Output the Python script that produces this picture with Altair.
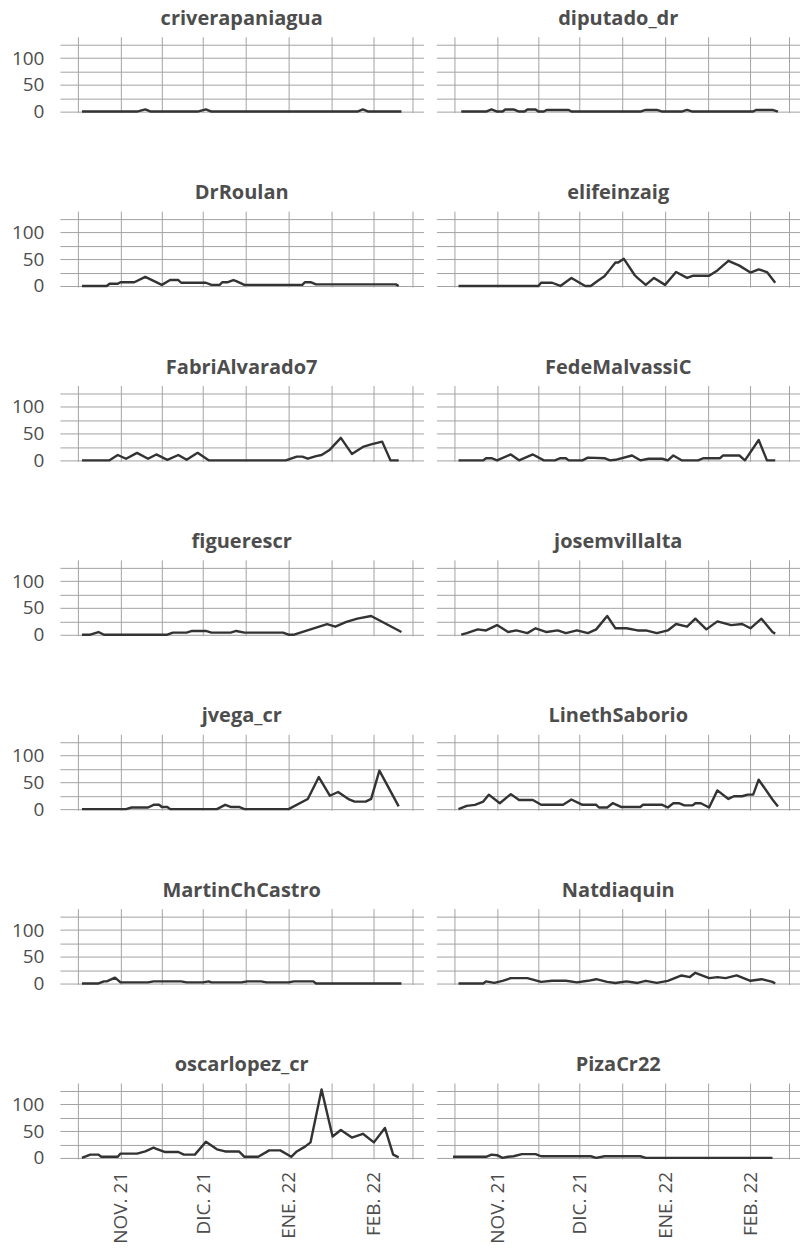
import altair as alt
import pandas as pd

# ---------------- data (day offsets from 2021-10-10) -------------
NAMES = ["criverapaniagua", "diputado_dr", "DrRoulan", "elifeinzaig", "FabriAlvarado7",
         "FedeMalvassiC", "figuerescr", "josemvillalta", "jvega_cr", "LinethSaborio",
         "MartinChCastro", "Natdiaquin", "oscarlopez_cr", "PizaCr22"]

criverapaniagua_days = [8, 28, 31, 33, 50, 53, 55, 108, 110, 112, 124]
criverapaniagua_vals = [0, 0, 4, 0, 0, 4, 0, 0, 4, 0, 0]

diputado_dr_days = [9, 18, 20, 22, 24, 25, 28, 30, 32, 33, 36, 37, 39, 40, 48, 49, 74, 76, 80, 82, 89, 91, 93, 115, 116, 122, 124]
diputado_dr_vals = [0, 0, 4, 0, 0, 4, 4, 0, 0, 4, 4, 0, 0, 3, 3, 0, 0, 3, 3, 0, 0, 3, 0, 0, 3, 3, 0]

DrRoulan_days = [8, 17, 18, 21, 22, 27, 31, 37, 40, 43, 44, 53, 55, 58, 59, 61, 63, 64, 67, 88, 89, 91, 93, 122, 123]
DrRoulan_vals = [0, 0, 4, 4, 7, 7, 17, 2, 11, 11, 6, 6, 2, 2, 7, 7, 11, 9, 2, 2, 7, 7, 3, 3, 0]

elifeinzaig_days = [8, 37, 38, 42, 45, 49, 54, 56, 59, 61, 63, 65, 66, 68, 72, 73, 76, 79, 83, 87, 91, 93, 99, 102, 106, 110, 114, 117, 120, 123]
elifeinzaig_vals = [0, 0, 6, 6, 0, 15, 0, 0, 11, 18, 31, 44, 44, 51, 20, 15, 2, 15, 2, 26, 15, 19, 19, 29, 47, 38, 25, 31, 26, 6]

FabriAlvarado7_days = [8, 18, 21, 24, 28, 32, 35, 39, 43, 46, 50, 54, 82, 86, 88, 90, 93, 95, 98, 102, 106, 110, 113, 117, 120, 123]
FabriAlvarado7_vals = [0, 0, 10, 3, 14, 3, 11, 1, 10, 1, 14, 0, 0, 7, 7, 3, 8, 10, 20, 42, 12, 25, 30, 35, 0, 0]

FedeMalvassiC_days = [8, 17, 18, 20, 22, 27, 30, 35, 39, 43, 45, 47, 48, 53, 55, 61, 63, 65, 71, 74, 77, 82, 84, 86, 89, 95, 97, 103, 104, 110, 112, 117, 120, 123]
FedeMalvassiC_vals = [0, 0, 4, 4, 0, 11, 0, 11, 0, 0, 4, 4, 0, 0, 5, 4, 0, 1, 9, 0, 3, 3, 0, 9, 0, 0, 4, 4, 9, 9, 0, 38, 0, 0]

figuerescr_days = [8, 11, 14, 16, 39, 41, 46, 48, 53, 55, 62, 64, 67, 81, 83, 85, 97, 100, 104, 108, 113, 124]
figuerescr_vals = [0, 0, 5, 0, 0, 4, 4, 7, 7, 4, 4, 7, 4, 4, 0, 0, 20, 15, 24, 30, 35, 5]

josemvillalta_days = [9, 11, 15, 18, 22, 26, 29, 33, 36, 40, 44, 47, 51, 55, 58, 62, 65, 69, 73, 76, 80, 84, 87, 91, 94, 98, 102, 107, 111, 114, 118, 122, 123]
josemvillalta_vals = [0, 3, 10, 8, 18, 5, 8, 3, 12, 5, 8, 3, 8, 3, 10, 35, 12, 12, 8, 8, 3, 8, 20, 15, 30, 10, 25, 18, 20, 12, 30, 5, 2]

jvega_cr_days = [8, 24, 26, 32, 34, 36, 37, 39, 40, 57, 60, 62, 65, 67, 83, 90, 94, 98, 101, 105, 107, 111, 113, 116, 123]
jvega_cr_vals = [0, 0, 3, 3, 8, 8, 4, 4, 0, 0, 8, 4, 4, 0, 0, 19, 60, 25, 32, 18, 14, 14, 19, 72, 5]

LinethSaborio_days = [8, 11, 14, 17, 19, 23, 27, 30, 35, 38, 46, 49, 53, 58, 59, 62, 64, 67, 74, 75, 82, 84, 86, 88, 90, 93, 94, 96, 99, 102, 106, 108, 111, 113, 115, 117, 122, 124]
LinethSaborio_vals = [0, 6, 8, 14, 27, 11, 28, 17, 17, 8, 8, 18, 8, 8, 3, 3, 11, 4, 4, 8, 8, 3, 11, 11, 7, 7, 11, 11, 3, 35, 19, 24, 24, 27, 27, 55, 18, 5]

MartinChCastro_days = [8, 14, 16, 17, 20, 22, 32, 34, 44, 46, 52, 54, 55, 66, 68, 73, 75, 83, 85, 92, 93, 124]
MartinChCastro_vals = [0, 0, 4, 4, 11, 2, 2, 4, 4, 2, 2, 4, 2, 2, 4, 4, 2, 2, 4, 4, 0, 0]

Natdiaquin_days = [8, 17, 18, 21, 24, 27, 33, 38, 42, 47, 51, 55, 58, 62, 65, 69, 73, 76, 80, 84, 89, 92, 94, 99, 102, 105, 109, 114, 118, 122, 123]
Natdiaquin_vals = [0, 0, 4, 1, 5, 10, 10, 3, 5, 5, 2, 5, 8, 3, 1, 4, 1, 5, 1, 5, 15, 12, 20, 10, 12, 10, 15, 5, 8, 3, 0]

oscarlopez_cr_days = [8, 11, 14, 15, 21, 22, 28, 31, 34, 35, 38, 43, 45, 49, 53, 57, 60, 65, 67, 72, 76, 80, 84, 86, 89, 91, 95, 99, 102, 106, 110, 114, 118, 121, 123]
oscarlopez_cr_vals = [0, 6, 6, 2, 2, 8, 8, 12, 19, 17, 11, 11, 6, 6, 30, 16, 12, 12, 2, 2, 14, 14, 2, 12, 21, 29, 128, 40, 52, 38, 45, 29, 56, 6, 1]

PizaCr22_days = [6, 18, 20, 22, 24, 26, 28, 31, 36, 38, 56, 58, 61, 74, 76, 122]
PizaCr22_vals = [2, 2, 6, 5, 0, 2, 3, 7, 7, 3, 3, 0, 3, 3, 0, 0]

X_TICK_MONTHS = [(2021, 11), (2021, 12), (2022, 1), (2022, 2)]
X_TICK_LABELS = ["NOV. 21", "DIC. 21", "ENE. 22", "FEB. 22"]
Y_TICKS = [0, 25, 50, 75, 100, 125]
Y_LABELS = [0, 50, 100]

SERIES = {
    "criverapaniagua": (criverapaniagua_days, criverapaniagua_vals),
    "diputado_dr": (diputado_dr_days, diputado_dr_vals),
    "DrRoulan": (DrRoulan_days, DrRoulan_vals),
    "elifeinzaig": (elifeinzaig_days, elifeinzaig_vals),
    "FabriAlvarado7": (FabriAlvarado7_days, FabriAlvarado7_vals),
    "FedeMalvassiC": (FedeMalvassiC_days, FedeMalvassiC_vals),
    "figuerescr": (figuerescr_days, figuerescr_vals),
    "josemvillalta": (josemvillalta_days, josemvillalta_vals),
    "jvega_cr": (jvega_cr_days, jvega_cr_vals),
    "LinethSaborio": (LinethSaborio_days, LinethSaborio_vals),
    "MartinChCastro": (MartinChCastro_days, MartinChCastro_vals),
    "Natdiaquin": (Natdiaquin_days, Natdiaquin_vals),
    "oscarlopez_cr": (oscarlopez_cr_days, oscarlopez_cr_vals),
    "PizaCr22": (PizaCr22_days, PizaCr22_vals),
}

# ---------------- build table -------------
base = pd.Timestamp("2021-10-10")
rows = []
for name in NAMES:
    days, vals = SERIES[name]
    for d, v in zip(days, vals):
        rows.append({"usuario": name,
                     "fecha": (base + pd.Timedelta(days=d)).strftime("%Y-%m-%dT00:00:00"),
                     "n": v})
df = pd.DataFrame(rows)

# x grid: month starts (labelled) and mid-months (unlabelled)
x_values = [
    alt.DateTime(year=2021, month=10, date=16, hours=12),
    alt.DateTime(year=2021, month=11, date=1),
    alt.DateTime(year=2021, month=11, date=16),
    alt.DateTime(year=2021, month=12, date=1),
    alt.DateTime(year=2021, month=12, date=16, hours=12),
    alt.DateTime(year=2022, month=1, date=1),
    alt.DateTime(year=2022, month=1, date=16, hours=12),
    alt.DateTime(year=2022, month=2, date=1),
    alt.DateTime(year=2022, month=2, date=15),
]
expr = "''"
for (yy, mm), lab in zip(reversed(X_TICK_MONTHS), reversed(X_TICK_LABELS)):
    expr = (f"(year(datum.value) == {yy} && month(datum.value) == {mm - 1} && "
            f"date(datum.value) == 1) ? '{lab}' : ({expr})")

y_expr = " || ".join(f"datum.value == {v}" for v in Y_LABELS)
y_expr = f"({y_expr}) ? datum.label : ''"

FONT = "Open Sans"
TXT = "#4d4d4d"
GRID = "#a3a3a3"

line = alt.Chart(df).mark_line(color="#333333", strokeWidth=2.4, strokeJoin="round").encode(
    x=alt.X("fecha:T",
            scale=alt.Scale(domain=[alt.DateTime(year=2021, month=10, date=10),
                                    alt.DateTime(year=2022, month=2, date=19)]),
            axis=alt.Axis(values=x_values, labelExpr=expr, labelAngle=-90, title=None,
                          ticks=False, domain=False, grid=True, gridColor=GRID, gridWidth=1,
                          labelFont=FONT, labelFontSize=19, labelColor=TXT, labelPadding=12)),
    y=alt.Y("n:Q",
            scale=alt.Scale(domain=[-2, 140], nice=False, zero=False),
            axis=alt.Axis(values=Y_TICKS, labelExpr=y_expr, title=None, ticks=False,
                          domain=False, grid=True, gridColor=GRID, gridWidth=1,
                          labelFont=FONT, labelFontSize=19, labelColor=TXT, labelPadding=16)),
).properties(width=364, height=76)

chart = line.facet(
    facet=alt.Facet("usuario:N", sort=NAMES, title=None,
                    header=alt.Header(labelFont=FONT, labelFontSize=20, labelFontWeight="bold",
                                      labelColor=TXT, labelPadding=8)),
    columns=2,
    spacing={"row": 69.6, "column": 13},
).configure_view(strokeWidth=0).properties(
    padding={"left": 11, "top": 8, "right": 0, "bottom": 0},
    background="white",
)

chart.save("out.html", embed_options={"renderer": "svg", "actions": False})
